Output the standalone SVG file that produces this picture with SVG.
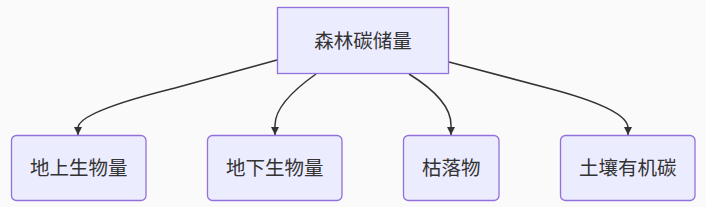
<svg xmlns="http://www.w3.org/2000/svg" width="706" height="207" viewBox="0 0 706 207">
<style>
.node rect{fill:#ECECFF;stroke:#9370DB;stroke-width:1.3px}
.node text{font-family:"Liberation Sans","Noto Sans CJK SC",sans-serif;font-size:19.5px;fill:#333;text-anchor:middle;dominant-baseline:central}
.edge{fill:none;stroke:#333;stroke-width:1.5px}
</style>
<defs>
<marker id="arr" viewBox="0 0 10 10" refX="10" refY="5" markerWidth="8" markerHeight="8" markerUnits="userSpaceOnUse" orient="auto">
<path d="M0,0L10,5L0,10z" fill="#333"/>
</marker>
</defs>
<rect width="706" height="207" fill="#fafafa"/>
<g id="edges">
<path class="edge" d="M277,60 L175,88 Q78,112 78,128 L78,135" marker-end="url(#arr)"/>
<path class="edge" d="M316,74 Q275,103 275,125 L275,135" marker-end="url(#arr)"/>
<path class="edge" d="M409,74 Q451,100 451,125 L451,135" marker-end="url(#arr)"/>
<path class="edge" d="M449,62 L555,90 Q628,110 628,128 L628,135" marker-end="url(#arr)"/>
</g>
<g id="n0" class="node"><rect x="277.5" y="7.5" width="171" height="66"/><text x="363" y="40.5">森林碳储量</text></g>
<g id="n1" class="node"><rect x="11.5" y="135.5" width="134.5" height="65" rx="5"/><text x="78.75" y="168">地上生物量</text></g>
<g id="n2" class="node"><rect x="207.5" y="135.5" width="134.5" height="65" rx="5"/><text x="274.75" y="168">地下生物量</text></g>
<g id="n3" class="node"><rect x="403.5" y="135.5" width="95.5" height="65" rx="5"/><text x="451.25" y="168">枯落物</text></g>
<g id="n4" class="node"><rect x="560.5" y="135.5" width="134.5" height="65" rx="5"/><text x="627.75" y="168">土壤有机碳</text></g>
</svg>
